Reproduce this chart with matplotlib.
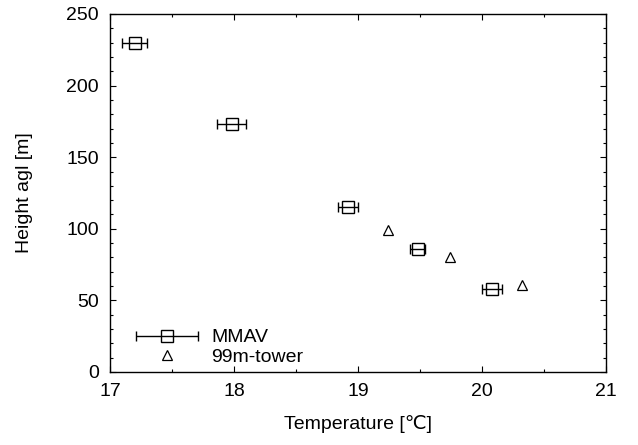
"""Vertical temperature profile: MMAV vs 99m tower."""

import matplotlib
matplotlib.use("Agg")
import matplotlib.pyplot as plt
from matplotlib.container import ErrorbarContainer
from matplotlib.legend_handler import HandlerErrorbar
from matplotlib.ticker import MultipleLocator

# MMAV profile (temperature, height, horizontal error)
mmav_temp = [17.20, 17.98, 18.92, 19.48, 20.08]
mmav_height = [230, 173, 115, 86, 58]
mmav_temp_err = [0.10, 0.12, 0.08, 0.06, 0.08]

# 99m tower
tower_temp = [19.24, 19.74, 20.32]
tower_height = [99, 80, 61]

plt.rcParams["font.family"] = ["Liberation Sans", "DejaVu Sans"]
plt.rcParams["font.size"] = 14

fig = plt.figure(figsize=(6.38, 4.45), dpi=100)
ax = fig.add_axes([110 / 638, 1 - 372 / 445, 496 / 638, 358 / 445])

eb = ax.errorbar(mmav_temp, mmav_height, xerr=mmav_temp_err, fmt="s",
                 mfc="none", mec="black", mew=1.0, ms=8, color="black",
                 ecolor="black", elinewidth=1.0, capsize=3.5, capthick=1.0,
                 label="MMAV")
tw, = ax.plot(tower_temp, tower_height, "^", mfc="none", mec="black",
              mew=0.9, ms=7.5, label="99m-tower")

ax.set_xlim(17, 21)
ax.set_ylim(0, 250)
ax.xaxis.set_major_locator(MultipleLocator(1))
ax.xaxis.set_minor_locator(MultipleLocator(0.5))
ax.yaxis.set_major_locator(MultipleLocator(50))
ax.yaxis.set_minor_locator(MultipleLocator(10))
ax.tick_params(which="both", direction="in", top=True, right=True, width=0.8)
ax.tick_params(which="major", length=4.5, pad=8)
ax.tick_params(which="minor", length=2.2)
for s in ax.spines.values():
    s.set_linewidth(1.0)

ax.set_xlabel("Temperature [℃]", labelpad=11)
ax.set_ylabel("Height agl [m]", labelpad=24)

ax.legend([eb, tw], ["MMAV", "99m-tower"], loc="lower left", frameon=False,
          handlelength=3.2, handletextpad=0.7, labelspacing=0.1,
          borderaxespad=0.0, bbox_to_anchor=(0.036, -0.005),
          handler_map={ErrorbarContainer: HandlerErrorbar(xerr_size=1.6)})

fig.savefig("out.png", dpi=100)
